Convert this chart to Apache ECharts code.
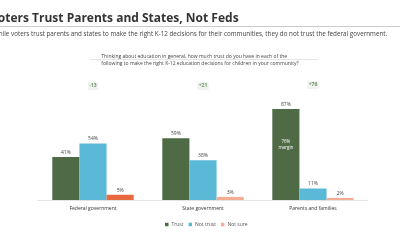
<!DOCTYPE html>
<html><head><meta charset="utf-8">
<script src="https://cdn.jsdelivr.net/npm/echarts@6/dist/echarts.min.js"></script>
<style>html,body{margin:0;padding:0;background:#fff}#c{width:400px;height:250px}</style>
</head><body><div id="c"></div>
<script>
const categories = ["Federal government", "State government", "Parents and families"];
const trust = [41, 59, 87];
const notTrust = [54, 38, 11];
const notSure = [5, 3, 2];
const margins = ["-13", "+21", "+76"];
const marginY = [109, 109, 110];
const insideLabelIndex = 2;
const insideLabelY = 53;

const chart = echarts.init(document.getElementById('c'), null, {renderer: 'canvas'});
const font = 'Open Sans';
const lbl = {show: true, position: 'top', fontSize: 5, color: '#444', fontFamily: font, distance: 2, formatter: p => p.value + '%'};
chart.setOption({
  animation: false,
  graphic: [
    {id: 'title', type: 'text', x: -10, y: 13, style: {text: 'Voters Trust Parents and States, Not Feds',
      fontSize: 12, fontWeight: 'bold', fill: '#333', fontFamily: font}},
    {id: 'sub', type: 'text', x: -7, y: 31, style: {text: 'While voters trust parents and states to make the right K-12 decisions for their communities, they do not trust the federal government.',
      fontSize: 6.3, fill: '#444', fontFamily: font}},
    {id: 'rule', type: 'rect', shape: {x: 0, y: 26, width: 400, height: 0.8}, style: {fill: '#bbb'}},
    {id: 'q', type: 'text', left: 'center', top: 53, style: {
      text: 'Thinking about education in general, how much trust do you have in each of the\nfollowing to make the right K-12 education decisions for children in your community?',
      align: 'center', fontSize: 5, lineHeight: 7, fill: '#444', fontFamily: font}},
    {id: 'qrule', type: 'rect', shape: {x: 90, y: 59.5, width: 228, height: 0.5}, style: {fill: '#ccc'}}
  ],
  legend: {bottom: 18, left: 160, itemWidth: 3.5, itemHeight: 3.5, itemGap: 5, icon: 'rect',
    textStyle: {fontSize: 5, color: '#555', fontFamily: font, padding: [0, 0, 0, -2]},
    data: ['Trust', 'Not trust', 'Not sure']},
  grid: {left: 38, right: 32, top: 74.5, bottom: 50},
  xAxis: {type: 'category', data: categories, axisTick: {show: false},
    axisLine: {lineStyle: {color: '#e3e3e3', width: 1}},
    axisLabel: {fontSize: 5, color: '#333', fontFamily: font, margin: 6}},
  yAxis: {type: 'value', min: 0, max: 120, show: false, splitLine: {show: false}},
  series: [
    {name: 'Trust', type: 'bar', data: trust, barGap: '0%', barCategoryGap: '26%',
     itemStyle: {color: '#4e6b46'}, label: lbl,
     markPoint: {silent: true, symbol: 'rect', symbolSize: 1, itemStyle: {color: '#4e6b46'},
       data: [{coord: [insideLabelIndex, insideLabelY], value: margins[insideLabelIndex]}],
       label: {show: true, position: 'inside', fontSize: 4.5, lineHeight: 6, color: '#ffffff', fontFamily: font,
         formatter: p => String(p.value).replace('+', '') + '%\nmargin'}}},
    {name: 'Not trust', type: 'bar', data: notTrust, itemStyle: {color: '#5bb9d8'}, label: lbl},
    {name: 'Not sure', type: 'bar', data: notSure.map((v, i) => ({value: v, itemStyle: {color: i === 0 ? '#e8683f' : '#f3ad95'}})),
     itemStyle: {color: '#f3ad95'}, label: lbl},
    {name: 'margin', type: 'scatter', data: marginY, symbolSize: 0, silent: true, z: 5,
     label: {show: true, position: 'inside', fontSize: 5, fontWeight: 'bold', color: '#4e7a45', fontFamily: font,
       backgroundColor: '#eef0ec', padding: [1.5, 1.5], formatter: p => margins[p.dataIndex]}}
  ]
});
</script></body></html>
